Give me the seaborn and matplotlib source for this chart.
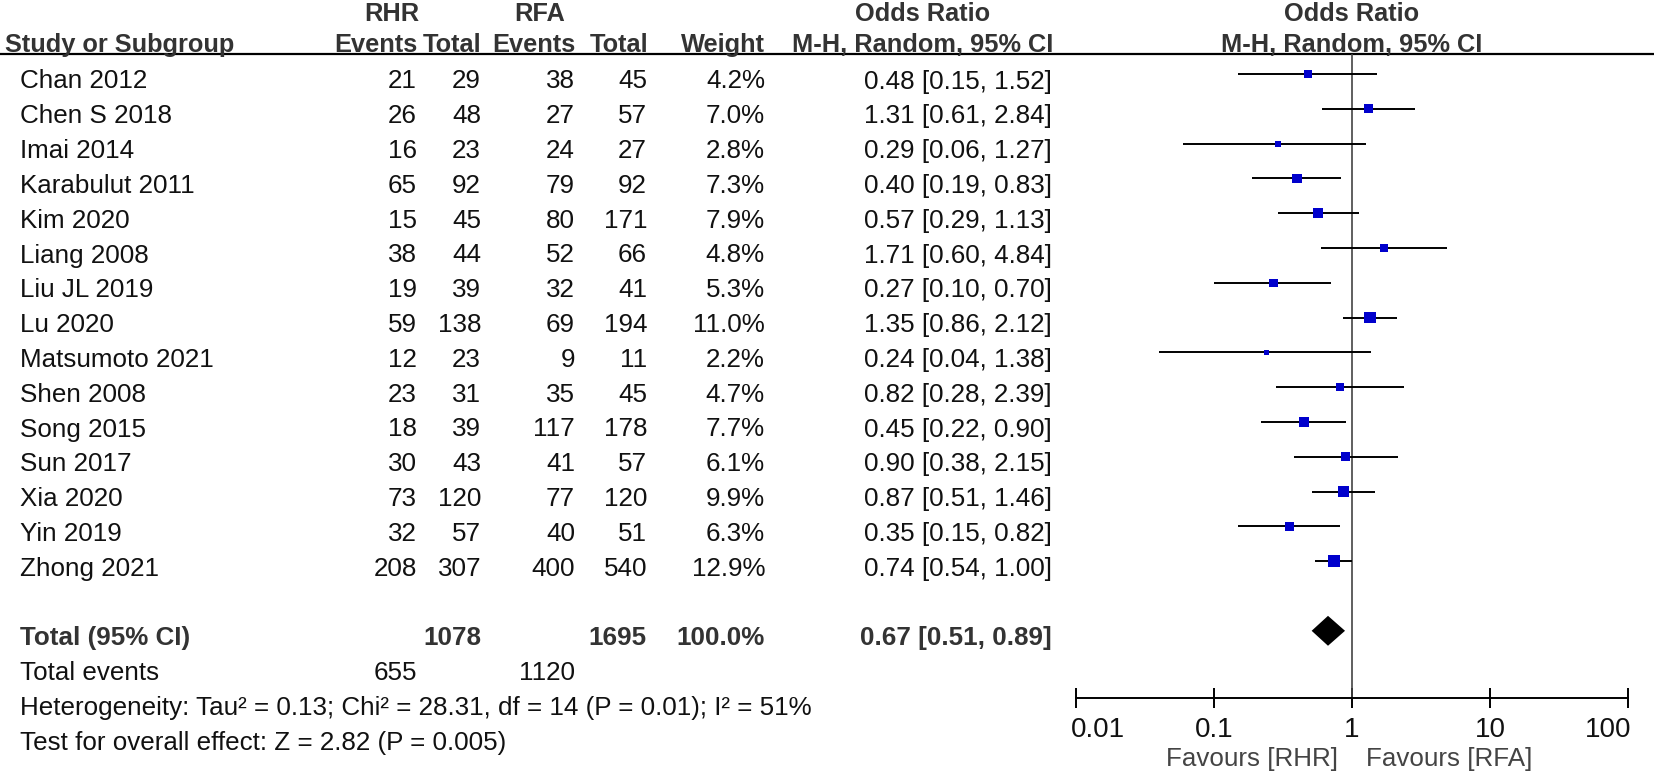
import matplotlib
matplotlib.use("Agg")
import matplotlib.pyplot as plt
from matplotlib.ticker import NullLocator, FixedLocator, FixedFormatter
from matplotlib.transforms import ScaledTranslation
import numpy as np
import pandas as pd
import seaborn as sns

# ---------------- data ----------------
studies = ["Chan 2012", "Chen S 2018", "Imai 2014", "Karabulut 2011", "Kim 2020",
           "Liang 2008", "Liu JL 2019", "Lu 2020", "Matsumoto 2021", "Shen 2008",
           "Song 2015", "Sun 2017", "Xia 2020", "Yin 2019", "Zhong 2021"]
rhr_events = [21, 26, 16, 65, 15, 38, 19, 59, 12, 23, 18, 30, 73, 32, 208]
rhr_total = [29, 48, 23, 92, 45, 44, 39, 138, 23, 31, 39, 43, 120, 57, 307]
rfa_events = [38, 27, 24, 79, 80, 52, 32, 69, 9, 35, 117, 41, 77, 40, 400]
rfa_total = [45, 57, 27, 92, 171, 66, 41, 194, 11, 45, 178, 57, 120, 51, 540]
weights = [4.2, 7.0, 2.8, 7.3, 7.9, 4.8, 5.3, 11.0, 2.2, 4.7, 7.7, 6.1, 9.9, 6.3, 12.9]
odds = [0.48, 1.31, 0.29, 0.40, 0.57, 1.71, 0.27, 1.35, 0.24, 0.82, 0.45, 0.90, 0.87, 0.35, 0.74]
ci_low = [0.15, 0.61, 0.06, 0.19, 0.29, 0.60, 0.10, 0.86, 0.04, 0.28, 0.22, 0.38, 0.51, 0.15, 0.54]
ci_high = [1.52, 2.84, 1.27, 0.83, 1.13, 4.84, 0.70, 2.12, 1.38, 2.39, 0.90, 2.15, 1.46, 0.82, 1.00]

total_rhr = 1078
total_rfa = 1695
total_weight = 100.0
events_rhr = 655
events_rfa = 1120
pooled_or, pooled_low, pooled_high = 0.67, 0.51, 0.89
heterogeneity = "Heterogeneity: Tau² = 0.13; Chi² = 28.31, df = 14 (P = 0.01); I² = 51%"
overall = "Test for overall effect: Z = 2.82 (P = 0.005)"
tick_vals = [0.01, 0.1, 1, 10, 100]
tick_labels = ["0.01", "0.1", "1", "10", "100"]
favours_left = "Favours [RHR]"
favours_right = "Favours [RFA]"

# ---------------- style ----------------
sns.set_theme(style="white")
plt.rcParams["font.family"] = ["Liberation Sans", "DejaVu Sans"]

W, H = 1654, 771
fig = plt.figure(figsize=(W / 100, H / 100), dpi=100)

FS = 18.7
FS_H = 18.3
FS_T = 20
HEAD_C = "#333333"
BODY_C = "#111111"

ROW0 = 74.0    # px of first row line
STEP = 34.8    # px per row


def line_px(r):
    return ROW0 + STEP * r


def base_px(r):
    return line_px(r) + 14.5


# text layer in pixel coordinates
tax = fig.add_axes([0, 0, 1, 1])
tax.set_xlim(0, W)
tax.set_ylim(H, 0)
tax.axis("off")

x_name = 20
x_ev1, x_tot1, x_ev2, x_tot2, x_wt, x_or = 417, 481, 575, 647, 765, 1052
x_or_c = 923
x_plot_c = 1352

# headers
hkw = dict(fontsize=FS_H, fontweight="bold", color=HEAD_C, va="baseline")
tax.text(392, 21, "RHR", ha="center", **hkw)
tax.text(540, 21, "RFA", ha="center", **hkw)
tax.text(x_or_c, 21, "Odds Ratio", ha="center", **hkw)
tax.text(x_plot_c, 21, "Odds Ratio", ha="center", **hkw)
tax.text(5, 52, "Study or Subgroup", ha="left", **hkw)
tax.text(x_ev1 + 1, 52, "Events", ha="right", **hkw)
tax.text(x_tot1, 52, "Total", ha="right", **hkw)
tax.text(x_ev2 + 1, 52, "Events", ha="right", **hkw)
tax.text(x_tot2 + 1, 52, "Total", ha="right", **hkw)
tax.text(x_wt, 52, "Weight", ha="right", **hkw)
tax.text(x_or_c, 52, "M-H, Random, 95% CI", ha="center", **hkw)
tax.text(x_plot_c, 52, "M-H, Random, 95% CI", ha="center", **hkw)
tax.plot([0, W], [54, 54], color="black", lw=1.6, solid_capstyle="butt")

bkw = dict(fontsize=FS, color=BODY_C, va="baseline")
for i, name in enumerate(studies):
    yb = base_px(i)
    tax.text(x_name, yb, name, ha="left", **bkw)
    tax.text(x_ev1, yb, f"{rhr_events[i]}", ha="right", **bkw)
    tax.text(x_tot1, yb, f"{rhr_total[i]}", ha="right", **bkw)
    tax.text(x_ev2, yb, f"{rfa_events[i]}", ha="right", **bkw)
    tax.text(x_tot2, yb, f"{rfa_total[i]}", ha="right", **bkw)
    tax.text(x_wt, yb, f"{weights[i]:.1f}%", ha="right", **bkw)
    tax.text(x_or, yb, f"{odds[i]:.2f} [{ci_low[i]:.2f}, {ci_high[i]:.2f}]", ha="right", **bkw)

r_tot = 16
tkw = dict(fontsize=FS, fontweight="bold", color=HEAD_C, va="baseline")
tax.text(x_name, base_px(r_tot), "Total (95% CI)", ha="left", **tkw)
tax.text(x_tot1, base_px(r_tot), f"{total_rhr}", ha="right", **tkw)
tax.text(x_tot2, base_px(r_tot), f"{total_rfa}", ha="right", **tkw)
tax.text(x_wt, base_px(r_tot), f"{total_weight:.1f}%", ha="right", **tkw)
tax.text(x_or, base_px(r_tot), f"{pooled_or:.2f} [{pooled_low:.2f}, {pooled_high:.2f}]", ha="right", **tkw)

tax.text(x_name, base_px(17), "Total events", ha="left", **bkw)
tax.text(x_ev1, base_px(17), f"{events_rhr}", ha="right", **bkw)
tax.text(x_ev2, base_px(17), f"{events_rfa}", ha="right", **bkw)
tax.text(x_name, base_px(18), heterogeneity, ha="left", **bkw)
tax.text(x_name, base_px(19), overall, ha="left", **bkw)

# ---------------- forest axes ----------------
x0, x1 = 1076, 1628
y_top, y_axis = 54, 698
fax = fig.add_axes([x0 / W, 1 - y_axis / H, (x1 - x0) / W, (y_axis - y_top) / H])
fax.patch.set_alpha(0)


def px_to_row(p):
    return (p - ROW0) / STEP


fax.set_xscale("log")
fax.set_xlim(0.01, 100)
fax.set_ylim(px_to_row(y_axis), px_to_row(y_top))

rows = np.arange(len(studies))
df = pd.DataFrame({"study": studies, "or": odds, "lo": ci_low, "hi": ci_high,
                   "w": weights, "row": rows})

fax.axvline(1, color="#444444", lw=1.2, zorder=1)
fax.hlines(df["row"], df["lo"], df["hi"], color="black", lw=1.4, zorder=2)
sns.scatterplot(data=df, x="or", y="row", size="w", sizes=(16, 80),
                size_norm=(min(weights), max(weights)), marker="s",
                color="#0000CC", edgecolor="none", legend=False, ax=fax, zorder=3)

# pooled diamond
dh = 0.43
fax.fill([pooled_low, pooled_or, pooled_high, pooled_or],
         [r_tot, r_tot - dh, r_tot, r_tot + dh], color="black", lw=0, zorder=3)

for s in ["top", "left", "right"]:
    fax.spines[s].set_visible(False)
fax.spines["bottom"].set_color("black")
fax.spines["bottom"].set_linewidth(1.4)
fax.set_yticks([])
fax.xaxis.set_major_locator(FixedLocator(tick_vals))
fax.xaxis.set_major_formatter(FixedFormatter(tick_labels))
fax.xaxis.set_minor_locator(NullLocator())
fax.tick_params(axis="x", direction="inout", length=15, width=1.4, colors="black",
                labelsize=FS_T, labelcolor=BODY_C, pad=6, bottom=True)
fax.set_xlabel("")
fax.set_ylabel("")
fax.grid(False)
fig.canvas.draw()
tl = fax.get_xticklabels()
tl[0].set_ha("left")
tl[0].set_transform(tl[0].get_transform() + ScaledTranslation(-5 / 100, 0, fig.dpi_scale_trans))
tl[-1].set_ha("right")
tl[-1].set_transform(tl[-1].get_transform() + ScaledTranslation(3 / 100, 0, fig.dpi_scale_trans))

fig.text(1338 / W, 1 - 759 / H, favours_left, ha="right", va="center",
         fontsize=FS, color="#444444")
fig.text(1366 / W, 1 - 759 / H, favours_right, ha="left", va="center",
         fontsize=FS, color="#444444")

fig.savefig("out.png", dpi=100)
